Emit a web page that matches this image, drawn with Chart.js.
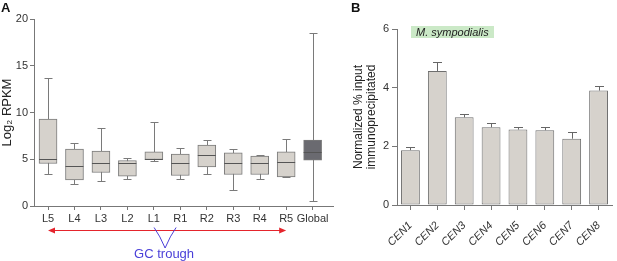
<!DOCTYPE html>
<html><head><meta charset="utf-8">
<script src="https://cdn.jsdelivr.net/npm/chart.js@4.4.1/dist/chart.umd.min.js"></script>
<style>
html,body{margin:0;padding:0;background:#fff;}
#wrap{position:relative;width:617px;height:261px;overflow:hidden;font-family:"Liberation Sans",Arial,sans-serif;}
#ca{position:absolute;left:0;top:0;}
#cb{position:absolute;left:340px;top:0;}
.lbl{position:absolute;font-weight:bold;font-size:13px;color:#111;}
#leg{position:absolute;left:411px;top:26px;width:78px;height:12px;background:#cbe9c7;font-style:italic;font-size:11px;line-height:12px;padding-left:5px;color:#222;}
</style></head>
<body>
<div id="wrap">
<canvas id="ca" width="340" height="261"></canvas>
<canvas id="cb" width="277" height="261"></canvas>
<div class="lbl" style="left:1px;top:0px;">A</div>
<div class="lbl" style="left:351px;top:0px;">B</div>
<div id="leg">M. sympodialis</div>
</div>
<script>
// ---- Panel A data ----
const boxCategories = ['L5','L4','L3','L2','L1','R1','R2','R3','R4','R5','Global'];
const whiskerMin = [3.47,2.33,2.72,2.86,4.80,2.94,3.47,1.72,2.94,3.05,0.50];
const boxQ1      = [4.55,2.79,3.58,3.19,4.97,3.26,4.19,3.37,3.37,3.11,4.90];
const boxMedian  = [5.02,4.26,4.58,4.55,5.06,4.65,5.44,4.65,4.61,4.72,5.80];
const boxQ3      = [9.30,6.08,5.87,4.87,5.80,5.55,6.51,5.69,5.33,5.80,7.05];
const whiskerMax = [13.67,6.76,8.30,5.15,8.95,6.22,7.05,6.12,5.44,7.16,18.45];
const yTicksA = [0,5,10,15,20];

// ---- Panel B data ----
const cenCategories = ['CEN1','CEN2','CEN3','CEN4','CEN5','CEN6','CEN7','CEN8'];
const cenMeans  = [1.87,4.57,2.99,2.65,2.57,2.55,2.26,3.90];
const cenErrors = [0.11,0.30,0.11,0.16,0.09,0.10,0.23,0.17];
const yTicksB = [0,2,4,6];

const FONT = '"Liberation Sans", Arial, sans-serif';
Chart.defaults.font.family = FONT;
Chart.defaults.color = '#333';

const boxPlugin = {
  id:'boxPlugin',
  beforeDatasetsDraw(chart){
    const {ctx, scales:{x,y}} = chart;
    ctx.save();
    ctx.strokeStyle = '#7a7a7a'; ctx.lineWidth = 1;
    boxCategories.forEach((c,i)=>{
      const px = Math.round(x.getPixelForValue(i))+0.5;
      const y0 = Math.round(y.getPixelForValue(whiskerMin[i]))+0.5;
      const y1 = Math.round(y.getPixelForValue(whiskerMax[i]))+0.5;
      ctx.beginPath();
      ctx.moveTo(px,y0); ctx.lineTo(px,y1);
      ctx.moveTo(px-4,y0); ctx.lineTo(px+4,y0);
      ctx.moveTo(px-4,y1); ctx.lineTo(px+4,y1);
      ctx.stroke();
    });
    ctx.restore();
  },
  afterDatasetsDraw(chart){
    const {ctx, scales:{x,y}} = chart;
    ctx.save();
    ctx.strokeStyle = '#555'; ctx.lineWidth = 1;
    boxCategories.forEach((c,i)=>{
      const px = x.getPixelForValue(i);
      const pm = Math.round(y.getPixelForValue(boxMedian[i]))+0.5;
      ctx.beginPath();
      ctx.moveTo(px-9,pm); ctx.lineTo(px+9,pm);
      ctx.stroke();
    });
    ctx.restore();
  },
  afterDraw(chart){
    const {ctx, scales:{x}} = chart;
    const ya = 230.5;
    const xa = x.getPixelForValue(0), xb = x.getPixelForValue(9);
    ctx.save();
    ctx.strokeStyle = '#e5242c'; ctx.fillStyle = '#e5242c'; ctx.lineWidth = 1;
    ctx.beginPath(); ctx.moveTo(xa+2,ya); ctx.lineTo(xb-2,ya); ctx.stroke();
    ctx.beginPath(); ctx.moveTo(xa,ya); ctx.lineTo(xa+7,ya-3); ctx.lineTo(xa+7,ya+3); ctx.closePath(); ctx.fill();
    ctx.beginPath(); ctx.moveTo(xb,ya); ctx.lineTo(xb-7,ya-3); ctx.lineTo(xb-7,ya+3); ctx.closePath(); ctx.fill();
    // V of the GC trough
    const xc = (x.getPixelForValue(4)+x.getPixelForValue(5))/2 - 2;
    ctx.strokeStyle = '#4a3fd8';
    ctx.beginPath();
    ctx.moveTo(xc-11,227.5); ctx.quadraticCurveTo(xc-5,236,xc,248); ctx.quadraticCurveTo(xc+5,236,xc+11,227.5);
    ctx.stroke();
    ctx.fillStyle = '#4a3fd8';
    ctx.font = '13px '+FONT;
    ctx.textAlign='center'; ctx.textBaseline='middle';
    ctx.fillText('GC trough', xc-1, 254.5);
    ctx.restore();
  }
};

new Chart(document.getElementById('ca'), {
  type:'bar',
  data:{datasets:[{
    data: boxCategories.map((c,i)=>({x:i, y:[boxQ1[i], boxQ3[i]]})),
    backgroundColor: boxCategories.map((c,i)=> c==='Global' ? '#6a6a70' : '#d6d2cc'),
    borderColor:'#7a7a7a', borderWidth:1, borderSkipped:false, barThickness:18
  }]},
  options:{
    responsive:false, animation:false,
    layout:{padding:{top:19, right:7, left:0, bottom:0}},
    plugins:{legend:{display:false}, tooltip:{enabled:false}},
    scales:{
      x:{type:'linear', offset:false, min:-0.53, max:10.77,
        afterBuildTicks:s=>{s.ticks = boxCategories.map((c,i)=>({value:i}));},
        ticks:{callback:(v)=>boxCategories[v], font:{size:11}, color:'#333', maxRotation:0, minRotation:0, autoSkip:false, padding:2},
        grid:{offset:false, drawOnChartArea:false, drawTicks:true, tickLength:4, color:'#777'},
        border:{display:true, color:'#777', width:1},
        afterFit:s=>{s.height=55;}
      },
      y:{min:0, max:20,
        afterBuildTicks:s=>{s.ticks = yTicksA.map(v=>({value:v}));},
        ticks:{font:{size:11}, color:'#333', padding:2},
        grid:{drawOnChartArea:false, drawTicks:true, tickLength:4, color:'#777'},
        border:{display:true, color:'#777', width:1},
        title:{display:true, text:'Log\u2082 RPKM', font:{size:13}, color:'#222', padding:{top:0,bottom:0}},
        afterFit:s=>{s.width=34;}
      }
    }
  },
  plugins:[boxPlugin]
});

const errPlugin = {
  id:'errPlugin',
  afterDatasetsDraw(chart){
    const {ctx, scales:{y}} = chart;
    const meta = chart.getDatasetMeta(0);
    ctx.save();
    ctx.strokeStyle = '#666'; ctx.lineWidth = 1;
    meta.data.forEach((bar,i)=>{
      const px = Math.round(bar.x)+0.5;
      const yb = y.getPixelForValue(cenMeans[i]);
      const yt = Math.round(y.getPixelForValue(cenMeans[i]+cenErrors[i]))+0.5;
      ctx.beginPath();
      ctx.moveTo(px,yb); ctx.lineTo(px,yt);
      ctx.moveTo(px-4.5,yt); ctx.lineTo(px+4.5,yt);
      ctx.stroke();
    });
    ctx.restore();
  }
};

new Chart(document.getElementById('cb'), {
  type:'bar',
  data:{labels:cenCategories, datasets:[{
    data:cenMeans, backgroundColor:'#d6d2cc', borderColor:'#6e6e6e', borderWidth:1, borderSkipped:false,
    categoryPercentage:1, barPercentage:0.7
  }]},
  options:{
    responsive:false, animation:false,
    layout:{padding:{top:29, right:1.5, left:12, bottom:0}},
    plugins:{legend:{display:false}, tooltip:{enabled:false}},
    scales:{
      x:{offset:true,
        ticks:{font:{size:11, style:'italic'}, color:'#333', maxRotation:45, minRotation:45, autoSkip:false, padding:9},
        grid:{offset:false, drawOnChartArea:false, drawTicks:true, tickLength:5, color:'#777'},
        border:{display:true, color:'#777', width:1},
        afterFit:s=>{s.height=56;}
      },
      y:{min:0, max:6,
        afterBuildTicks:s=>{s.ticks = yTicksB.map(v=>({value:v}));},
        ticks:{font:{size:11}, color:'#333', padding:3},
        grid:{drawOnChartArea:false, drawTicks:true, tickLength:5, color:'#777'},
        border:{display:true, color:'#777', width:1},
        title:{display:true, text:['Normalized % input','immunoprecipitated'], font:{size:12, lineHeight:1.1}, color:'#222', padding:{top:0,bottom:0}},
        afterFit:s=>{s.width=45;}
      }
    }
  },
  plugins:[errPlugin]
});
</script>
</body></html>
